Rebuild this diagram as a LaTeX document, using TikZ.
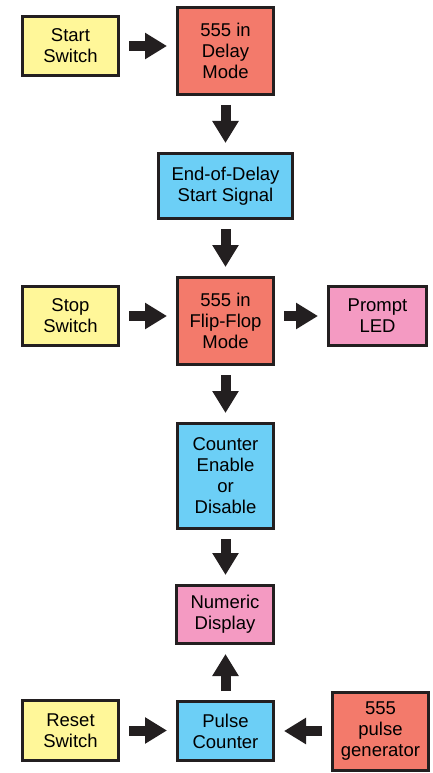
\documentclass[tikz,border=0pt]{standalone}
\usepackage{fontspec}
\setmainfont{Liberation Sans}
\usetikzlibrary{arrows.meta}
\definecolor{ink}{HTML}{231F20}
\definecolor{yel}{HTML}{FFF799}
\definecolor{sal}{HTML}{F37A6B}
\definecolor{sky}{HTML}{6CCFF6}
\definecolor{pnk}{HTML}{F49AC2}
\begin{document}
\begin{tikzpicture}[x=1pt,y=-1pt,
  box/.style={draw=ink, line width=3pt, align=center, inner sep=0pt, font=\fontsize{18.5}{21}\selectfont},
  bigarrow/.style={draw=ink, line width=10pt, -{Triangle[length=22pt,width=25pt]}, shorten <=9pt, shorten >=9pt}]
\useasboundingbox (0,0) rectangle (432,773);
\node[box, fill=yel, minimum width=96pt, minimum height=59pt] (start) at (70.5,46) {Start\\Switch};
\node[box, fill=sal, minimum width=96pt, minimum height=87pt] (delay) at (225.5,51) {555 in\\Delay\\Mode};
\node[box, fill=sky, minimum width=134pt, minimum height=65pt] (eod) at (225.5,186) {End-of-Delay\\Start Signal};
\node[box, fill=yel, minimum width=96pt, minimum height=59pt] (stop) at (70.5,316) {Stop\\Switch};
\node[box, fill=sal, minimum width=96pt, minimum height=87pt] (ff) at (225.5,321) {555 in\\Flip-Flop\\Mode};
\node[box, fill=pnk, minimum width=98pt, minimum height=59pt] (led) at (377.5,316) {Prompt\\LED};
\node[box, fill=sky, minimum width=96pt, minimum height=105pt] (cnt) at (225.5,476) {Counter\\Enable\\or\\Disable};
\node[box, fill=pnk, minimum width=97pt, minimum height=58pt] (num) at (225,614.5) {Numeric\\Display};
\node[box, fill=yel, minimum width=96pt, minimum height=60pt] (reset) at (70.5,730.5) {Reset\\Switch};
\node[box, fill=sky, minimum width=96pt, minimum height=59pt] (pulse) at (225.5,731) {Pulse\\Counter};
\node[box, fill=sal, minimum width=96pt, minimum height=78pt] (gen) at (380.5,731) {555\\pulse\\generator};
\draw[bigarrow] (start.east) -- (start.east -| delay.west);
\draw[bigarrow] (delay.south) -- (eod.north);
\draw[bigarrow] (eod.south) -- (ff.north);
\draw[bigarrow] (stop.east) -- (stop.east -| ff.west);
\draw[bigarrow] (ff.east |- led.west) -- (led.west);
\draw[bigarrow] (ff.south) -- (cnt.north);
\draw[bigarrow] (cnt.south) -- (cnt.south |- num.north);
\draw[bigarrow] (pulse.north) -- (pulse.north |- num.south);
\draw[bigarrow] (reset.east) -- (reset.east -| pulse.west);
\draw[bigarrow] (gen.west) -- (gen.west -| pulse.east);
\end{tikzpicture}
\end{document}
